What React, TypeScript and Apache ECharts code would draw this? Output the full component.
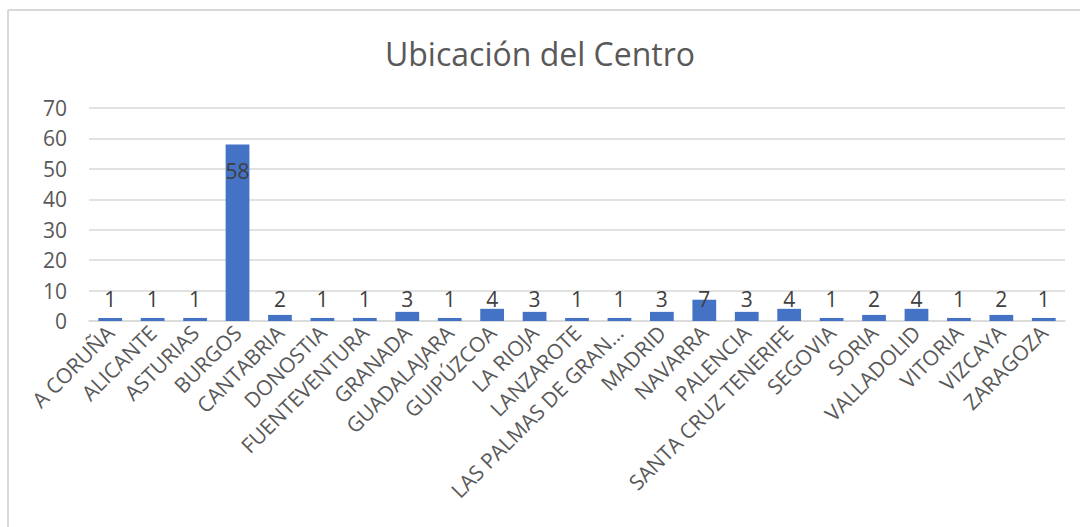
import React, { useEffect, useRef } from "react";
import * as echarts from "echarts";

const title = "Ubicación del Centro";
const categories = [
  "A CORUÑA", "ALICANTE", "ASTURIAS", "BURGOS", "CANTABRIA", "DONOSTIA",
  "FUENTEVENTURA", "GRANADA", "GUADALAJARA", "GUIPÚZCOA", "LA RIOJA",
  "LANZAROTE", "LAS PALMAS DE GRAN…", "MADRID", "NAVARRA", "PALENCIA",
  "SANTA CRUZ TENERIFE", "SEGOVIA", "SORIA", "VALLADOLID", "VITORIA",
  "VIZCAYA", "ZARAGOZA",
];
const values = [1, 1, 1, 58, 2, 1, 1, 3, 1, 4, 3, 1, 1, 3, 7, 3, 4, 1, 2, 4, 1, 2, 1];
const yMin = 0;
const yMax = 70;
const yInterval = 10;

const FONT = "'Open Sans', 'Noto Sans', sans-serif";

export default function App() {
  const ref = useRef<HTMLDivElement>(null);
  useEffect(() => {
    if (!ref.current) return;
    const chart = echarts.init(ref.current, null, { renderer: "svg" });
    chart.setOption({
      animation: false,
      backgroundColor: "#ffffff",
      textStyle: { fontFamily: FONT },
      title: {
        text: title,
        left: "center",
        top: 32,
        textStyle: { fontFamily: FONT, fontSize: 32, fontWeight: "normal", color: "#595959" },
      },
      graphic: [
        { type: "line", shape: { x1: 8, y1: 10, x2: 1080, y2: 10 }, style: { stroke: "#d9d9d9", lineWidth: 2 } },
        { type: "line", shape: { x1: 8, y1: 10, x2: 8, y2: 527 }, style: { stroke: "#d9d9d9", lineWidth: 2 } },
      ],
      grid: { left: 89, right: 15, top: 108, bottom: 206, containLabel: false },
      xAxis: {
        type: "category",
        data: categories,
        axisTick: { show: false },
        axisLine: { lineStyle: { color: "#d9d9d9", width: 1.5 } },
        axisLabel: {
          rotate: 45,
          interval: 0,
          margin: 8,
          fontSize: 21,
          color: "#595959",
          fontFamily: FONT,
        },
      },
      yAxis: {
        type: "value",
        min: yMin,
        max: yMax,
        interval: yInterval,
        axisLine: { show: false },
        axisTick: { show: false },
        splitLine: { lineStyle: { color: "#d9d9d9", width: 1.5 } },
        axisLabel: { fontSize: 21, color: "#595959", margin: 22, fontFamily: FONT },
      },
      series: [
        {
          type: "bar",
          barCategoryGap: "44%",
          itemStyle: { color: "#4472C4" },
          data: values.map((v) => ({
            value: v,
            label: v > 10
              ? { show: true, position: "insideTop", distance: 16 }
              : { show: true, position: "insideBottom", distance: 12 },
          })),
          label: { show: true, fontSize: 21, color: "#404040", fontFamily: FONT },
        },
      ],
    });
    return () => chart.dispose();
  }, []);
  return (
    <div
      ref={ref}
      style={{ position: "fixed", left: 0, top: 0, width: 1080, height: 527 }}
    />
  );
}
